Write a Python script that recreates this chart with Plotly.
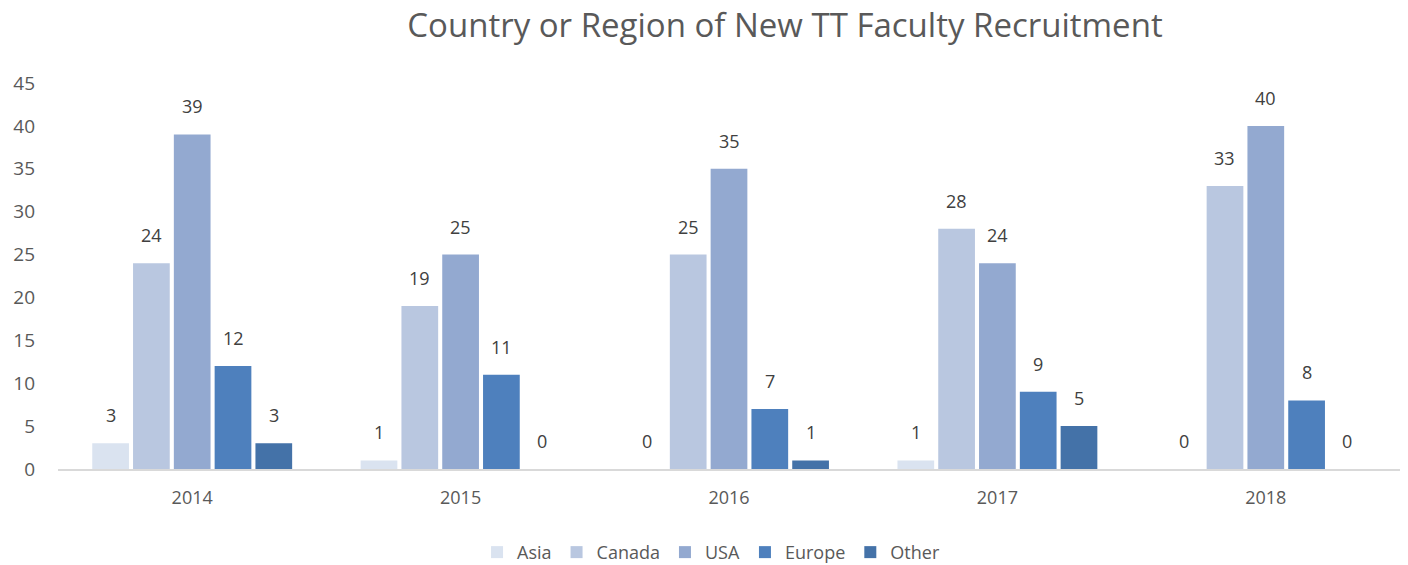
import plotly.graph_objects as go

years = ["2014", "2015", "2016", "2017", "2018"]
series_names = ["Asia", "Canada", "USA", "Europe", "Other"]
asia = [3, 1, 0, 1, 0]
canada = [24, 19, 25, 28, 33]
usa = [39, 25, 35, 24, 40]
europe = [12, 11, 7, 9, 8]
other = [3, 0, 1, 5, 0]
colors = ["#DAE3F0", "#B9C7E0", "#93A9D0", "#4E80BD", "#4472A8"]

all_series = [asia, canada, usa, europe, other]
FONT = "Open Sans, Liberation Sans, sans-serif"
TXT = "#595959"

fig = go.Figure()
for name, vals, col in zip(series_names, all_series, colors):
    fig.add_trace(go.Bar(name=name, x=years, y=vals, marker_color=col,
                         marker_line_width=0))

slot = 268.5 * (1 - 0.24) / 5
for i, vals in enumerate(all_series):
    for j, v in enumerate(vals):
        fig.add_annotation(x=j, y=v, text=str(v), showarrow=False,
                           xshift=(i - 2) * slot, yshift=14, yanchor="bottom",
                           font=dict(family=FONT, size=18, color="#404040"))

fig.update_layout(
    width=1408, height=565,
    paper_bgcolor="white", plot_bgcolor="white",
    margin=dict(l=58, r=8, t=83, b=96),
    barmode="group", bargap=0.24, bargroupgap=0.1,
    title=dict(text="Country or Region of New TT Faculty Recruitment",
               x=0.5575, xanchor="center", xref="container",
               y=0.955, yanchor="middle",
               font=dict(family=FONT, size=33, color=TXT)),
    font=dict(family=FONT, color=TXT),
    legend=dict(orientation="h", x=0.505, xanchor="center", xref="container",
                y=0.055, yanchor="top", yref="container",
                font=dict(family=FONT, size=18, color=TXT),
                itemwidth=30, traceorder="normal"),
    showlegend=True,
)
fig.update_xaxes(type="category", range=[-0.5, 4.5], showgrid=False, showline=True,
                 linecolor="#D9D9D9", linewidth=1.5, ticks="", ticklabelstandoff=12,
                 tickfont=dict(family=FONT, size=18, color=TXT))
fig.update_yaxes(range=[0, 45], dtick=5, showgrid=False, zeroline=False,
                 showline=False, ticks="", ticklabelstandoff=22,
                 tickfont=dict(family=FONT, size=19, color=TXT))

fig.write_html("out.html", config={"displayModeBar": False},
               post_script="document.body.style.margin='0px';")
